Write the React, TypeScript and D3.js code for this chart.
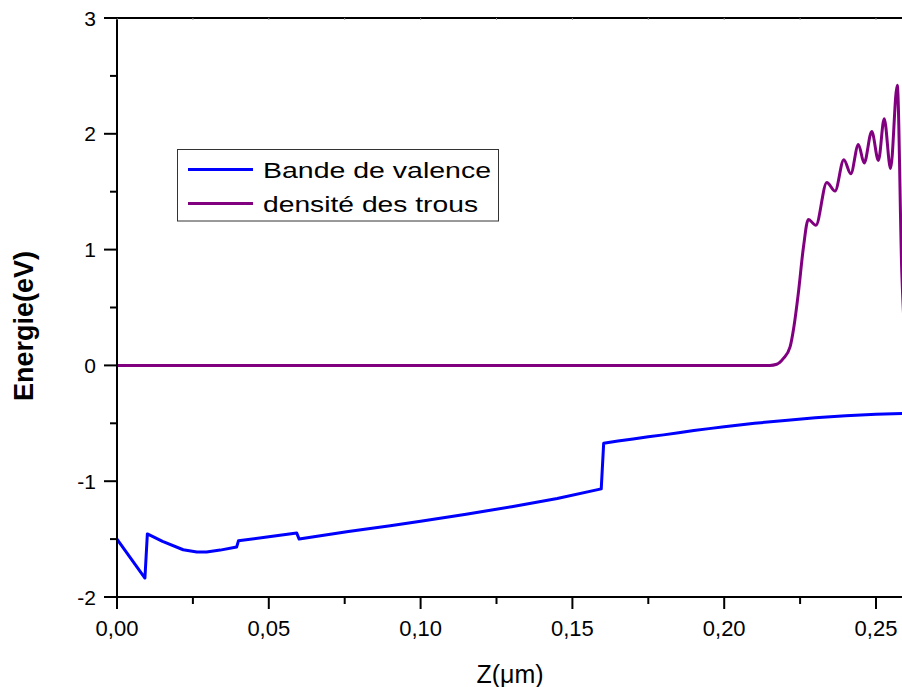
import { useEffect, useRef } from 'react'
import * as d3 from 'd3'

// Bande de valence (Z in µm, energy in eV)
const valenceZ = [0, 0.0092, 0.0100, 0.0150, 0.0218, 0.0263, 0.0295, 0.0340, 0.0394, 0.0400, 0.0500, 0.0592, 0.0600, 0.0762, 0.0900, 0.1000, 0.1150, 0.1300, 0.1450, 0.1595, 0.1603, 0.1650, 0.1700, 0.1750, 0.1800, 0.1850, 0.1900, 0.1950, 0.2000, 0.2100, 0.2200, 0.2300, 0.2400, 0.2500, 0.2600]
const valenceE = [-1.50, -1.836, -1.455, -1.52, -1.592, -1.612, -1.612, -1.595, -1.569, -1.515, -1.48, -1.448, -1.50, -1.434, -1.385, -1.345, -1.285, -1.22, -1.15, -1.066, -0.672, -0.653, -0.635, -0.617, -0.60, -0.581, -0.562, -0.546, -0.53, -0.50, -0.475, -0.452, -0.435, -0.422, -0.415]

// Densité des trous
const holesZ = [0, 0.1000, 0.2150, 0.2173, 0.2195, 0.2217, 0.2230, 0.2244, 0.2261, 0.2277, 0.2302, 0.2338, 0.2365, 0.2394, 0.2417, 0.2442, 0.2461, 0.2486, 0.2508, 0.2527, 0.2548, 0.2570, 0.2585, 0.2600]
const holesE = [0, 0, 0, 0.01, 0.06, 0.16, 0.34, 0.62, 1.02, 1.26, 1.21, 1.58, 1.505, 1.776, 1.655, 1.908, 1.747, 2.02, 1.77, 2.13, 1.70, 2.42, 0.80, 0.05]

const xTicks = [0, 0.05, 0.1, 0.15, 0.2, 0.25]
const xTickLabels = ['0,00', '0,05', '0,10', '0,15', '0,20', '0,25']
const yTicks = [-2, -1, 0, 1, 2, 3]
const legendLabels = ['Bande de valence', 'densité des trous']
const seriesColors = ['#0000ff', '#800080']

export default function App() {
  const svgRef = useRef<SVGSVGElement>(null)

  useEffect(() => {
    if (!svgRef.current) return
    const svg = d3.select(svgRef.current)
    svg.selectAll('*').remove()

    const width = 902
    const height = 687
    const left = 117
    const top = 18
    const bottom = 597

    const x = d3.scaleLinear().domain([0, 0.25]).range([left, 876])
    const y = d3.scaleLinear().domain([-2, 3]).range([bottom, top])
    const right = x(0.262)
    const font = 'Arial, "Liberation Sans", sans-serif'

    svg.attr('width', width).attr('height', height)

    svg.append('defs').append('clipPath').attr('id', 'plot-clip')
      .append('rect')
      .attr('x', left).attr('y', top)
      .attr('width', right - left).attr('height', bottom - top)

    // curves
    const plot = svg.append('g').attr('clip-path', 'url(#plot-clip)')
    const series = [
      { xs: valenceZ, ys: valenceE, curve: d3.curveLinear },
      { xs: holesZ, ys: holesE, curve: d3.curveMonotoneX },
    ]
    series.forEach((s, i) => {
      const line = d3.line<number>()
        .x((_, j) => x(s.xs[j]))
        .y(d => y(d))
        .curve(s.curve)
      plot.append('path')
        .attr('d', line(s.ys))
        .attr('fill', 'none')
        .attr('stroke', seriesColors[i])
        .attr('stroke-width', 3)
        .attr('stroke-linejoin', 'round')
    })

    const axes = svg.append('g').attr('stroke', '#000').attr('fill', 'none')

    // frame lines
    axes.append('line').attr('x1', left).attr('x2', left).attr('y1', top).attr('y2', bottom).attr('stroke-width', 2)
    axes.append('line').attr('x1', left - 13).attr('x2', right + 10).attr('y1', bottom).attr('y2', bottom).attr('stroke-width', 2)
    axes.append('line').attr('x1', left - 13).attr('x2', right + 10).attr('y1', top).attr('y2', top).attr('stroke-width', 2)

    // bottom ticks
    d3.range(0, 0.2626, 0.025).forEach((v, i) => {
      axes.append('line')
        .attr('x1', x(v)).attr('x2', x(v))
        .attr('y1', bottom).attr('y2', bottom + (i % 2 === 0 ? 12 : 7))
        .attr('stroke-width', 2)
      // faint top ticks
      axes.append('line')
        .attr('x1', x(v)).attr('x2', x(v))
        .attr('y1', top).attr('y2', top + 2)
        .attr('stroke', '#999').attr('stroke-width', 1)
    })

    // left ticks
    d3.range(-2, 3.01, 0.5).forEach(v => {
      const major = Number.isInteger(v)
      axes.append('line')
        .attr('x1', left - (major ? 13 : 7)).attr('x2', left)
        .attr('y1', y(v)).attr('y2', y(v))
        .attr('stroke-width', 2)
    })

    const labels = svg.append('g').attr('font-family', font).attr('fill', '#000')

    xTicks.forEach((v, i) => {
      labels.append('text')
        .attr('x', x(v)).attr('y', 636)
        .attr('text-anchor', 'middle')
        .attr('font-size', 22)
        .text(xTickLabels[i])
    })

    yTicks.forEach(v => {
      labels.append('text')
        .attr('x', 96).attr('y', y(v) + 7.5)
        .attr('text-anchor', 'end')
        .attr('font-size', 21)
        .text(String(v))
    })

    // axis titles
    labels.append('text')
      .attr('transform', 'translate(33,326) rotate(-90)')
      .attr('text-anchor', 'middle')
      .attr('font-size', 27)
      .attr('font-weight', 'bold')
      .text('Energie(eV)')

    labels.append('text')
      .attr('x', 510).attr('y', 683)
      .attr('text-anchor', 'middle')
      .attr('font-size', 25)
      .text('Z(μm)')

    // legend
    const legend = svg.append('g')
    legend.append('rect')
      .attr('x', 177.5).attr('y', 149.5)
      .attr('width', 321).attr('height', 71.5)
      .attr('fill', '#fff')
      .attr('stroke', '#333')
      .attr('stroke-width', 1)
    const widths = [228, 215]
    const rows = [169.5, 203.5]
    legendLabels.forEach((label, i) => {
      legend.append('line')
        .attr('x1', 188).attr('x2', 253)
        .attr('y1', rows[i]).attr('y2', rows[i])
        .attr('stroke', seriesColors[i])
        .attr('stroke-width', 3)
      legend.append('text')
        .attr('x', 263).attr('y', rows[i] + 8.2)
        .attr('font-family', font)
        .attr('font-size', 22)
        .attr('textLength', widths[i])
        .attr('lengthAdjust', 'spacingAndGlyphs')
        .attr('fill', '#000')
        .text(label)
    })
  }, [])

  return (
    <svg
      ref={svgRef}
      style={{ position: 'absolute', left: 0, top: 0, display: 'block', background: '#fff' }}
    />
  )
}
